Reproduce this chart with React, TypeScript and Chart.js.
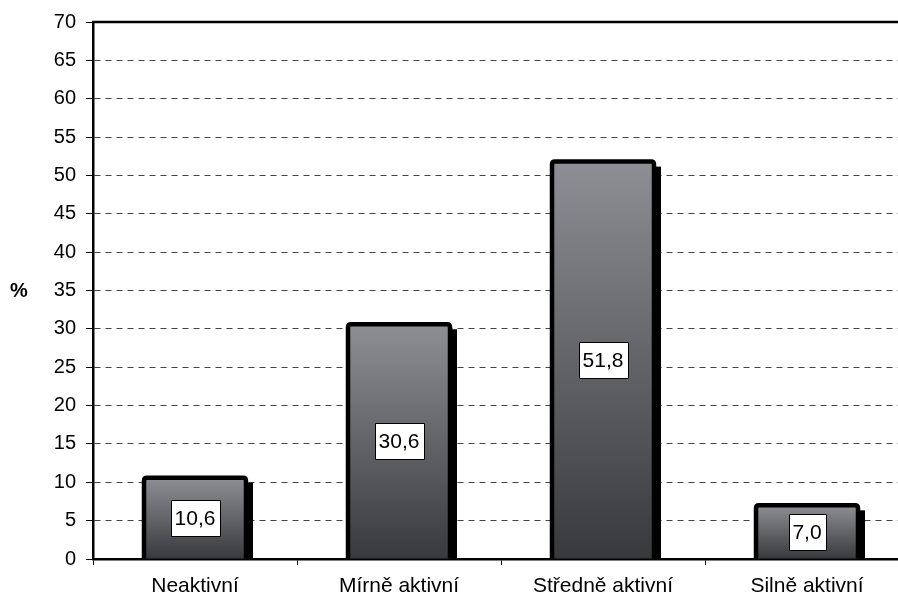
import React, { useEffect, useRef } from "react";
import { Chart, registerables } from "chart.js";

Chart.register(...registerables);

const categories = ["Neaktivní", "Mírně aktivní", "Středně aktivní", "Silně aktivní"];
const shares = [10.6, 30.6, 51.8, 7.0];
const yMin = 0;
const yMax = 70;
const yStep = 5;
const yTitle = "%";

const FONT = "'Liberation Sans', Arial, Helvetica, sans-serif";

const formatValue = (v: number) => v.toFixed(1).replace(".", ",");

// Black drop shadow behind each bar, plus a centered outline and the value box.
const barDecor = {
  id: "barDecor",
  beforeDatasetsDraw(chart: any) {
    const ctx = chart.ctx;
    const meta = chart.getDatasetMeta(0);
    ctx.save();
    ctx.fillStyle = "#000";
    meta.data.forEach((bar: any) => {
      const half = bar.width / 2;
      const left = bar.x - half - 2;
      const right = bar.x + half + 2;
      const top = bar.y + 5;
      ctx.fillRect(left + 5, top, right - left, bar.base - top);
    });
    ctx.restore();
  },
  afterDatasetsDraw(chart: any) {
    const ctx = chart.ctx;
    const meta = chart.getDatasetMeta(0);
    const data = chart.data.datasets[0].data as number[];
    ctx.save();
    meta.data.forEach((bar: any, i: number) => {
      const half = bar.width / 2;
      const left = bar.x - half;
      const right = bar.x + half;
      const top = bar.y;
      const base = bar.base;
      const r = 3;
      ctx.lineWidth = 4.5;
      ctx.strokeStyle = "#000";
      ctx.lineJoin = "round";
      ctx.beginPath();
      ctx.moveTo(left, base);
      ctx.lineTo(left, top + r);
      ctx.quadraticCurveTo(left, top, left + r, top);
      ctx.lineTo(right - r, top);
      ctx.quadraticCurveTo(right, top, right, top + r);
      ctx.lineTo(right, base);
      ctx.stroke();

      const text = formatValue(data[i]);
      ctx.font = `21px ${FONT}`;
      const tw = ctx.measureText(text).width;
      const bw = Math.round(tw + 8);
      const bh = 36;
      const cx = bar.x;
      const cy = (top + base) / 2;
      const bx = Math.round(cx - bw / 2) + 0.5;
      const by = Math.round(cy - bh / 2) + 0.5;
      ctx.fillStyle = "#fff";
      ctx.fillRect(bx, by, bw, bh);
      ctx.lineWidth = 1;
      ctx.strokeRect(bx, by, bw, bh);
      ctx.fillStyle = "#000";
      ctx.textAlign = "center";
      ctx.textBaseline = "middle";
      ctx.fillText(text, cx, cy + 1);
    });
    ctx.restore();
  },
  afterDraw(chart: any) {
    const ctx = chart.ctx;
    const { left, right, top } = chart.chartArea;
    ctx.save();
    // solid frame line at the top of the plot
    ctx.strokeStyle = "#000";
    ctx.lineWidth = 2.5;
    ctx.beginPath();
    ctx.moveTo(left - 1, top);
    ctx.lineTo(right, top);
    ctx.stroke();
    // unrotated axis title
    ctx.fillStyle = "#000";
    ctx.font = `bold 20px ${FONT}`;
    ctx.textAlign = "center";
    ctx.textBaseline = "middle";
    const y = chart.scales.y;
    ctx.fillText(yTitle, 19, (y.top + y.bottom) / 2 + 1);
    ctx.restore();
  },
};

export default function App() {
  const canvasRef = useRef<HTMLCanvasElement | null>(null);

  useEffect(() => {
    const canvas = canvasRef.current;
    if (!canvas) return;
    const chart = new Chart(canvas, {
      type: "bar",
      data: {
        labels: categories,
        datasets: [
          {
            data: shares,
            borderWidth: 0,
            categoryPercentage: 1,
            barPercentage: 0.5,
            backgroundColor: (c: any) => {
              const ch = c.chart;
              if (!ch.chartArea || c.dataIndex === undefined) return "#66676b";
              const ys = ch.scales.y;
              const v = shares[c.dataIndex];
              const top = ys.getPixelForValue(v);
              const bottom = ys.getPixelForValue(0);
              const g = ch.ctx.createLinearGradient(0, top, 0, bottom);
              g.addColorStop(0, "#8e8f94");
              g.addColorStop(1, "#38393d");
              return g;
            },
          },
        ],
      },
      options: {
        responsive: false,
        animation: false,
        devicePixelRatio: 1,
        layout: { padding: { left: 0, top: 21, right: 11, bottom: 0 } },
        plugins: {
          legend: { display: false },
          tooltip: { enabled: false },
        },
        scales: {
          x: {
            offset: true,
            grid: {
              offset: true,
              drawOnChartArea: false,
              drawTicks: true,
              tickLength: 6,
              tickColor: "#000",
              tickWidth: 1,
            },
            border: { display: true, color: "#000", width: 2.5 },
            ticks: {
              color: "#000",
              font: { family: FONT, size: 21 },
              padding: 9,
              maxRotation: 0,
            },
            afterFit: (s: any) => {
              s.height = 39;
            },
          },
          y: {
            min: yMin,
            max: yMax,
            grid: {
              color: "#444",
              lineWidth: 1,
              drawTicks: true,
              tickLength: 7,
              tickColor: "#000",
              tickWidth: 1,
            },
            border: { display: true, color: "#000", width: 2.5, dash: [6, 5] },
            ticks: {
              stepSize: yStep,
              color: "#000",
              font: { family: FONT, size: 20 },
              padding: 10,
            },
            afterFit: (s: any) => {
              s.width = 93;
            },
          },
        },
      },
      plugins: [barDecor],
    });
    return () => chart.destroy();
  }, []);

  return (
    <div
      style={{
        position: "fixed",
        left: 0,
        top: 0,
        width: 898,
        height: 598,
        overflow: "hidden",
        background: "#fff",
      }}
    >
      <canvas ref={canvasRef} width={920} height={598} style={{ display: "block" }} />
    </div>
  );
}
